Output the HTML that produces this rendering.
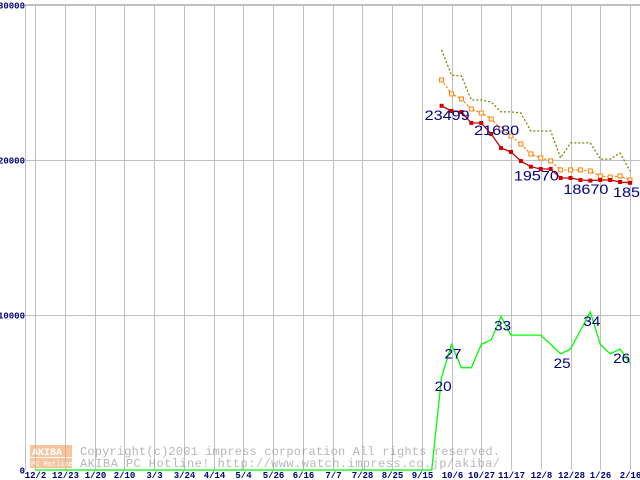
<!DOCTYPE html>
<html><head><meta charset="utf-8"><style>
html,body{margin:0;padding:0;background:#fff;width:640px;height:480px;overflow:hidden}
svg{display:block}
text{font-family:"Liberation Mono","DejaVu Sans Mono",monospace}
</style></head><body>
<svg id="chart" width="640" height="480">
<g id="grid"></g>
<g id="wm" opacity="0.6">
  <rect x="30" y="445" width="42" height="12" fill="#f0a060"/>
  <rect x="30" y="458" width="42" height="10" fill="#f0a060"/>
  <text x="32" y="455" font-size="10" fill="#fff" font-weight="bold">AKIBA</text>
  <text x="31" y="466" font-size="7" fill="#fff">PC Hotline!</text>
  <text x="80" y="455" font-size="12" textLength="420" fill="#888">Copyright(c)2001 impress corporation All rights reserved.</text>
  <text x="80" y="467" font-size="12" textLength="420" fill="#888">AKIBA PC Hotline!  http://www.watch.impress.co.jp/akiba/</text>
</g>
<g id="series"></g>
</svg>
<script>
const xLabels=["12/2","12/23","1/20","2/10","3/3","3/24","4/14","5/4","5/26","6/16","7/7","7/28","8/25","9/15","10/6","10/27","11/17","12/8","12/28","1/26","2/16"];
const yTicks=[0,10000,20000,30000];
const startIdx=41;
const minPrice=[23499,23160,23100,22390,22390,21680,20770,20520,19930,19570,19420,19420,18840,18840,18710,18670,18710,18710,18580,18530];
const avgPrice=[25160,24260,23940,23290,23030,22650,22000,21550,21030,20390,20130,19940,19360,19360,19360,19290,18970,18900,18970,18710];
const maxPrice=[27100,25480,25420,23870,23870,23740,23100,23100,23030,21870,21870,21870,20130,21100,21100,21100,20060,20060,20450,19290];
const shopIdx=[40,41,42,43,44,45,46,47,48,49,50,51,52,53,54,55,56,57,58,59,60];
const shopCount=[0,20,27,22,22,27,28,33,29,29,29,29,27,25,26,30,34,27,25,26,23];
const minLabels=[[41,"23499"],[46,"21680"],[50,"19570"],[55,"18670"],[60,"18530"]];
const shopLabels=[[41,"20"],[42,"27"],[47,"33"],[53,"25"],[56,"34"],[59,"26"]];

const NS="http://www.w3.org/2000/svg";
const X0=35,X1=630,Y0=470,Y1=5;
const wk=(X1-X0)/60;
function xw(i){return X0+i*wk;}
function yv(v){return Y0-(v/30000)*(Y0-Y1);}
function ys(c){return yv(c*300);}
function mk(tag,attrs,parent){const e=document.createElementNS(NS,tag);for(const k in attrs)e.setAttribute(k,attrs[k]);parent.appendChild(e);return e;}
const grid=document.getElementById('grid'),ser=document.getElementById('series');

let e=mk('line',{x1:25.5,y1:4.5,x2:640,y2:4.5,stroke:'#c0c0c0'},grid);

e=mk('line',{x1:25.5,y1:4,x2:25.5,y2:470,stroke:'#c0c0c0'},grid);

yTicks.forEach(v=>{
  const y=Math.round(yv(v))+0.5;
  if(v>0){const l=mk('line',{x1:25,y1:y,x2:640,y2:y,stroke:'#c0c0c0'},grid);
  }
  const t=mk('text',{x:25,y:y+3,'font-size':9,'font-weight':'bold',fill:'#000080','text-anchor':'end'},grid);
  t.textContent=String(v);
  
});
xLabels.forEach((s,i)=>{
  const x=Math.round(xw(i*3))+0.5;
  const l=mk('line',{x1:x,y1:4,x2:x,y2:470,stroke:'#c0c0c0'},grid);
  
  const t=mk('text',{x:x,y:478,'font-size':9,'font-weight':'bold',fill:'#000080','text-anchor':'middle'},grid);
  t.textContent=s;
  
});

function pts(arr,fx,fy){return arr.map((v,i)=>fx(i).toFixed(1)+','+fy(v).toFixed(1)).join(' ');}
let p=mk('polyline',{points:X0+','+Y0+' '+pts(shopCount,i=>xw(shopIdx[i]),ys),fill:'none',stroke:'#00ff00','stroke-width':1.3},ser);

p=mk('polyline',{points:pts(maxPrice,i=>xw(startIdx+i),yv),fill:'none',stroke:'#808000','stroke-width':1.3,'stroke-dasharray':'2,2'},ser);

p=mk('polyline',{points:pts(avgPrice,i=>xw(startIdx+i),yv),fill:'none',stroke:'#ff8000','stroke-width':1.3,'stroke-dasharray':'2,2'},ser);

avgPrice.forEach((v,i)=>{const r=mk('rect',{x:xw(startIdx+i)-2,y:yv(v)-2,width:4,height:4,fill:'#fff',stroke:'#ff8000','stroke-width':1},ser);
});
p=mk('polyline',{points:pts(minPrice,i=>xw(startIdx+i),yv),fill:'none',stroke:'#cc0000','stroke-width':1.3},ser);

minPrice.forEach((v,i)=>{const r=mk('rect',{x:xw(startIdx+i)-2,y:yv(v)-2,width:4,height:4,fill:'#cc0000'},ser);
});
minLabels.forEach(([idx,s])=>{
  const v=minPrice[idx-startIdx];const dy=(idx===46)?1:14;
  const t=mk('text',{x:xw(idx)-17,y:yv(v)+dy,'font-size':14,textLength:45,lengthAdjust:'spacingAndGlyphs',fill:'#000080',style:'font-family:"Liberation Sans",sans-serif'},ser);
  t.textContent=s;
  
});
shopLabels.forEach(([idx,s])=>{
  const v=shopCount[shopIdx.indexOf(idx)];
  const t=mk('text',{x:xw(idx)-7,y:ys(v)+14,'font-size':14,textLength:17,lengthAdjust:'spacingAndGlyphs',fill:'#000080',style:'font-family:"Liberation Sans",sans-serif'},ser);
  t.textContent=s;
  
});
</script>
</body></html>
